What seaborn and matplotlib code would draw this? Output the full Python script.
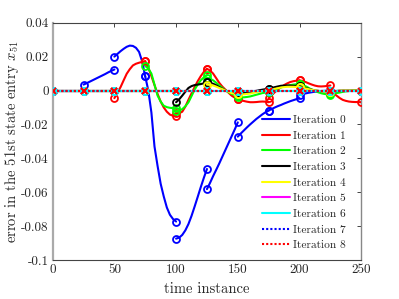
import matplotlib
matplotlib.use("Agg")
import matplotlib.pyplot as plt
from matplotlib.lines import Line2D
import pandas as pd
import seaborn as sns

# sample instants and the offsets read inside each 25-step interval
knots = [0, 25, 50, 75, 100, 125, 150, 175, 200, 225, 250]
offsets = [0, 2.5, 5, 7.5, 10, 12.5, 15, 17.5, 20, 22.5, 25]

flat = [0.0] * 11

iter0 = [
    flat,
    [0.0035, 0.0043, 0.0052, 0.0061, 0.0070, 0.0079, 0.0088, 0.0097, 0.0107, 0.0116, 0.0124],
    [0.0200, 0.0216, 0.0232, 0.0246, 0.0258, 0.0265, 0.0263, 0.0252, 0.0228, 0.0172, 0.0083],
    [0.0083, 0.0000, -0.0130, -0.0330, -0.0445, -0.0550, -0.0625, -0.0690, -0.0733, -0.0758, -0.0773],
    [-0.0874, -0.0868, -0.0852, -0.0825, -0.0788, -0.0740, -0.0685, -0.0628, -0.0570, -0.0515, -0.0463],
    [-0.0582, -0.0545, -0.0505, -0.0468, -0.0430, -0.0390, -0.0350, -0.0310, -0.0270, -0.0230, -0.0188],
    [-0.0272, -0.0253, -0.0235, -0.0217, -0.0200, -0.0184, -0.0168, -0.0154, -0.0140, -0.0128, -0.0118],
    [-0.0118, -0.0109, -0.0100, -0.0092, -0.0085, -0.0077, -0.0070, -0.0063, -0.0057, -0.0051, -0.0045],
    [-0.0025, -0.0021, -0.0017, -0.0013, -0.0010, -0.0007, -0.0005, -0.0003, -0.0002, -0.0001, 0.0],
    flat,
]
iter1 = [
    flat, flat,
    [-0.0045, -0.0012, 0.0020, 0.0060, 0.0099, 0.0126, 0.0148, 0.0158, 0.0164, 0.0169, 0.0173],
    [0.0173, 0.0135, 0.0085, 0.0032, -0.0020, -0.0065, -0.0100, -0.0125, -0.0142, -0.0149, -0.0150],
    [-0.0135, -0.0134, -0.0125, -0.0095, -0.0055, -0.0017, 0.0020, 0.0055, 0.0085, 0.0110, 0.0128],
    [0.0128, 0.0118, 0.0100, 0.0073, 0.0045, 0.0023, 0.0005, -0.0013, -0.0030, -0.0042, -0.0049],
    [-0.0049, -0.0056, -0.0062, -0.0066, -0.0069, -0.0069, -0.0068, -0.0066, -0.0065, -0.0066, -0.0069],
    [-0.0045, -0.0027, -0.0010, 0.0005, 0.0020, 0.0032, 0.0042, 0.0050, 0.0055, 0.0058, 0.0060],
    [0.0060, 0.0056, 0.0050, 0.0042, 0.0035, 0.0029, 0.0025, 0.0024, 0.0025, 0.0027, 0.0030],
    [0.0000, -0.0015, -0.0030, -0.0044, -0.0055, -0.0061, -0.0065, -0.0067, -0.0068, -0.0068, -0.0069],
]
iter2 = [
    flat, flat, flat,
    [0.0145, 0.0130, 0.0100, 0.0035, -0.0030, -0.0065, -0.0090, -0.0098, -0.0102, -0.0104, -0.0105],
    [-0.0120, -0.0118, -0.0110, -0.0093, -0.0070, -0.0033, 0.0005, 0.0035, 0.0060, 0.0078, 0.0090],
    [0.0075, 0.0070, 0.0060, 0.0046, 0.0030, 0.0015, 0.0000, -0.0010, -0.0020, -0.0026, -0.0030],
    [-0.0040, -0.0041, -0.0040, -0.0038, -0.0035, -0.0030, -0.0025, -0.0020, -0.0015, -0.0012, -0.0010],
    [-0.0010, -0.0002, 0.0005, 0.0012, 0.0018, 0.0024, 0.0028, 0.0032, 0.0035, 0.0037, 0.0038],
    [0.0038, 0.0033, 0.0025, 0.0015, 0.0005, -0.0003, -0.0010, -0.0016, -0.0020, -0.0023, -0.0025],
    [-0.0020, -0.0018, -0.0015, -0.0012, -0.0008, -0.0005, -0.0003, -0.0001, 0.0, 0.0, 0.0],
]
iter3 = [
    flat, flat, flat, flat,
    [-0.0069, -0.0052, -0.0030, -0.0007, 0.0015, 0.0026, 0.0032, 0.0035, 0.0038, 0.0043, 0.0050],
    [0.0050, 0.0046, 0.0040, 0.0031, 0.0020, 0.0010, 0.0000, -0.0006, -0.0010, -0.0013, -0.0015],
    [-0.0015, -0.0016, -0.0015, -0.0013, -0.0010, -0.0006, -0.0002, 0.0002, 0.0005, 0.0008, 0.0010],
    [0.0010, 0.0015, 0.0020, 0.0024, 0.0028, 0.0029, 0.0030, 0.0029, 0.0028, 0.0027, 0.0025],
    [0.0025, 0.0020, 0.0015, 0.0010, 0.0005, 0.0001, -0.0002, -0.0004, -0.0005, -0.0005, -0.0005],
    [-0.0005, -0.0004, -0.0003, -0.0001, 0.0, 0.0, 0.0, 0.0, 0.0, 0.0, 0.0],
]
iter4 = [
    flat, flat, flat, flat, flat,
    [0.0035, 0.0033, 0.0030, 0.0023, 0.0015, 0.0008, 0.0000, -0.0008, -0.0015, -0.0019, -0.0022],
    [-0.0022, -0.0022, -0.0022, -0.0020, -0.0018, -0.0014, -0.0010, -0.0006, -0.0003, -0.0001, 0.0000],
    [0.0000, 0.0005, 0.0010, 0.0014, 0.0018, 0.0020, 0.0022, 0.0022, 0.0022, 0.0021, 0.0020],
    [0.0020, 0.0016, 0.0012, 0.0008, 0.0004, 0.0001, -0.0002, -0.0004, -0.0005, -0.0006, -0.0006],
    [-0.0006, -0.0005, -0.0003, -0.0001, 0.0, 0.0, 0.0, 0.0, 0.0, 0.0, 0.0],
]
iter5 = [flat] * 10
iter6 = [flat] * 10
iter7 = [flat] * 10
iter8 = [flat] * 10

iterations = [iter0, iter1, iter2, iter3, iter4, iter5, iter6, iter7, iter8]
labels = [f"Iteration {k}" for k in range(9)]
colors = ["#0000ff", "#ff0000", "#00ff00", "#000000", "#ffff00",
          "#ff00ff", "#00ffff", "#0000ff", "#ff0000"]
styles = ["-"] * 7 + [(0, (1, 1)), (0, (1, 1))]
markers = ["o"] * 7 + [None, "x"]

xticks = [0, 50, 100, 150, 200, 250]
yticks = [-0.1, -0.08, -0.06, -0.04, -0.02, 0, 0.02, 0.04]
ytick_labels = ["-0.1", "-0.08", "-0.06", "-0.04", "-0.02", "0", "0.02", "0.04"]

sns.set_style("white")
plt.rcParams["font.family"] = "serif"
plt.rcParams["font.serif"] = ["cmr10", "DejaVu Serif"]
plt.rcParams["mathtext.fontset"] = "cm"
plt.rcParams["axes.unicode_minus"] = False
plt.rcParams["axes.formatter.use_mathtext"] = True

fig, ax = plt.subplots(figsize=(3.99, 2.99), dpi=100)
fig.subplots_adjust(left=0.132, right=0.9053, top=0.924, bottom=0.1304)

for k, segs in enumerate(iterations):
    rows = []
    for s, vals in enumerate(segs):
        for off, v in zip(offsets, vals):
            rows.append({"t": knots[s] + off, "value": v, "seg": s})
    df = pd.DataFrame(rows)
    sns.lineplot(data=df, x="t", y="value", units="seg", estimator=None,
                 color=colors[k], linestyle=styles[k], linewidth=1.5,
                 ax=ax, legend=False, zorder=2 + k)
    if markers[k] is not None:
        ends = df.groupby("seg").agg(t0=("t", "first"), v0=("value", "first"),
                                      t1=("t", "last"), v1=("value", "last"))
        mt = list(ends["t0"]) + list(ends["t1"])
        mv = list(ends["v0"]) + list(ends["v1"])
        ax.plot(mt, mv, linestyle="none", marker=markers[k], ms=5,
                mfc="none", mec=colors[k], mew=1.3, zorder=2 + k)

ax.set_xlim(0, 250)
ax.set_ylim(-0.1, 0.04)
ax.set_xticks(xticks)
ax.set_xticklabels([str(x) for x in xticks])
ax.set_yticks(yticks)
ax.set_yticklabels(ytick_labels)
ax.tick_params(direction="in", length=3, width=0.6, top=True, right=True,
               labelsize=9.5, colors="#262626", pad=3)
ax.set_xlabel("time instance", fontsize=10.5, labelpad=4)
ax.set_ylabel("error in the 51st state entry $x_{51}$", fontsize=10.5, labelpad=0)

for side in ["top", "bottom"]:
    ax.spines[side].set_color("#444444")
    ax.spines[side].set_linewidth(0.8)
ax.spines["left"].set_color("#aaaaaa")
ax.spines["left"].set_linewidth(1.6)
ax.spines["right"].set_color("#888888")
ax.spines["right"].set_linewidth(1.0)

handles = [Line2D([0], [0], color=colors[k], linestyle=styles[k], linewidth=1.5)
           for k in range(9)]
ax.legend(handles, labels, loc="lower right", frameon=False, fontsize=8.2,
          handlelength=2.5, handletextpad=0.2, labelspacing=0.5,
          borderaxespad=0.45, bbox_to_anchor=(0.98, 0.0))

plt.savefig("out.png", dpi=100)
